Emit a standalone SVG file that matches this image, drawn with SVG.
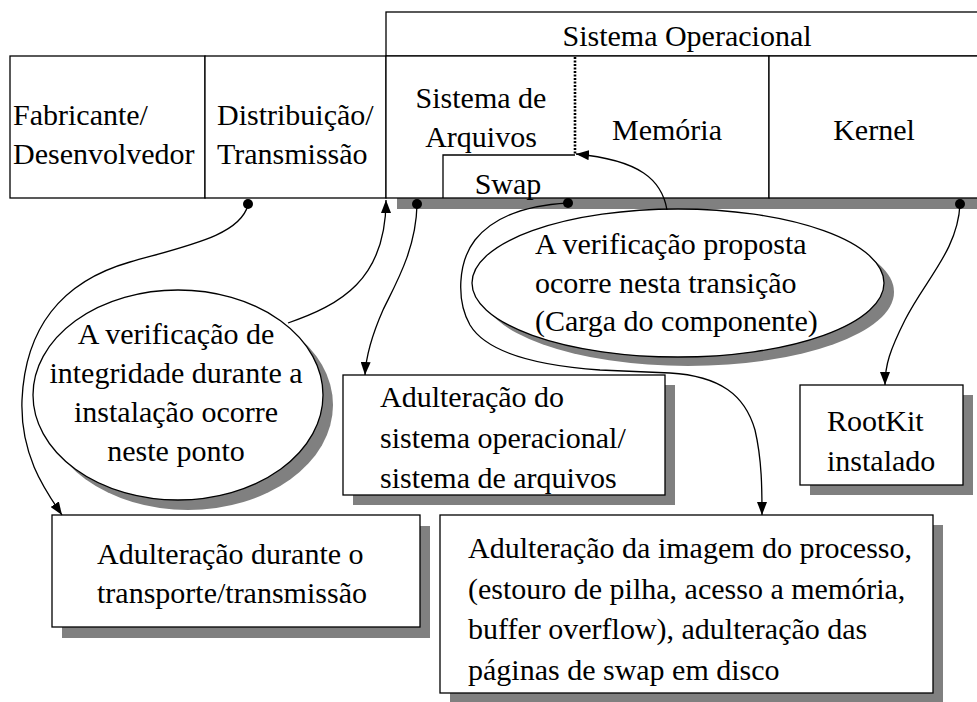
<svg xmlns="http://www.w3.org/2000/svg" width="977" height="702" viewBox="0 0 977 702">
<defs>
<style>
text{font-family:'Times New Roman','Liberation Serif','DejaVu Serif','Noto Serif',serif;font-size:30px;fill:#000}
.c{text-anchor:middle}
.box{fill:#fff;stroke:#000;stroke-width:1.3}
.sh{fill:#808080;stroke:none}
.conn{fill:none;stroke:#000;stroke-width:1.3}
.dot{fill:#000}
</style>
<marker id="arr" markerWidth="14" markerHeight="10" refX="13" refY="5" orient="auto" markerUnits="userSpaceOnUse">
<path d="M0,0 L13,5 L0,10 z" fill="#000"/>
</marker>
</defs>
<rect width="977" height="702" fill="#fff"/>
<g id="os-header">
<rect class="box" x="386" y="12" width="600" height="44"/>
<text class="c" x="687" y="46">Sistema Operacional</text>
</g>

<rect class="sh" x="397" y="198" width="590" height="11"/>

<g id="fabricante">
<rect class="box" x="10" y="56" width="195" height="142"/>
<text x="13" y="125">Fabricante/</text>
<text x="13" y="164">Desenvolvedor</text>
</g>

<g id="distribuicao">
<rect class="box" x="205" y="56" width="181" height="142"/>
<text x="217" y="125">Distribuição/</text>
<text x="217" y="164">Transmissão</text>
</g>

<g id="os-body">
<rect class="box" x="386" y="56" width="383" height="142"/>
</g>

<g id="sistema-arquivos">
<line x1="575" y1="57" x2="575" y2="155" stroke="#000" stroke-width="2.6" stroke-dasharray="2,1.5"/>
<text class="c" x="481" y="108">Sistema de</text>
<text class="c" x="481" y="147">Arquivos</text>
</g>

<g id="memoria">
<text class="c" x="667" y="140">Memória</text>
</g>

<g id="swap">
<polyline class="conn" points="575,155 443,155 443,198"/>
<text class="c" x="508" y="194">Swap</text>
</g>

<g id="kernel">
<rect class="box" x="769" y="56" width="215" height="142"/>
<text class="c" x="874" y="140">Kernel</text>
</g>

<g id="verificacao-instalacao">
<ellipse class="sh" cx="188" cy="405" rx="145" ry="105"/>
<ellipse class="box" cx="178" cy="395" rx="145" ry="105"/>
<text class="c" x="176" y="344">A verificação de</text>
<text class="c" x="176" y="383">integridade durante a</text>
<text class="c" x="176" y="422">instalação ocorre</text>
<text class="c" x="176" y="461">neste ponto</text>
</g>

<g id="verificacao-proposta">
<ellipse class="sh" cx="688" cy="292" rx="206" ry="74"/>
<ellipse class="box" cx="678" cy="283" rx="206" ry="74"/>
<text x="535" y="254">A verificação proposta</text>
<text x="535" y="293">ocorre nesta transição</text>
<text x="535" y="331">(Carga do componente)</text>
</g>

<g id="adulteracao-so">
<rect class="sh" x="353" y="385" width="322" height="120"/>
<rect class="box" x="343" y="375" width="322" height="120"/>
<text x="380" y="407">Adulteração do</text>
<text x="380" y="448">sistema operacional/</text>
<text x="380" y="488">sistema de arquivos</text>
</g>

<g id="rootkit">
<rect class="sh" x="810" y="395" width="163" height="100"/>
<rect class="box" x="800" y="385" width="163" height="100"/>
<text x="827" y="431">RootKit</text>
<text x="827" y="471">instalado</text>
</g>

<g id="adulteracao-transporte">
<rect class="sh" x="62" y="526" width="368" height="112"/>
<rect class="box" x="52" y="515" width="368" height="112"/>
<text x="97" y="564">Adulteração durante o</text>
<text x="97" y="603">transporte/transmissão</text>
</g>

<g id="adulteracao-processo">
<rect class="sh" x="450" y="525" width="493" height="178"/>
<rect class="box" x="440" y="515" width="493" height="178"/>
<text x="468" y="558">Adulteração da imagem do processo,</text>
<text x="468" y="599">(estouro de pilha, acesso a memória,</text>
<text x="468" y="639">buffer overflow), adulteração das</text>
<text x="468" y="680">páginas de swap em disco</text>
</g>

<g id="connectors">
<path class="conn" marker-end="url(#arr)" d="M248,205 C240,235 190,245 130,262 C60,282 25,330 22,400 C20,455 45,490 62,515"/>
<circle class="dot" cx="248" cy="204" r="5"/>
<path class="conn" marker-end="url(#arr)" d="M288,323 C340,305 386,280 386,200"/>
<path class="conn" marker-end="url(#arr)" d="M417,205 C416,250 395,285 383,310 C372,335 366,355 365,375"/>
<circle class="dot" cx="417" cy="204" r="5"/>
<path class="conn" marker-end="url(#arr)" d="M568,203 C530,205 495,215 475,240 C458,262 456,300 470,325 C485,350 530,365 600,370 L670,373 C720,376 745,395 755,430 C762,460 762,490 762,515"/>
<circle class="dot" cx="568" cy="203" r="5"/>
<path class="conn" marker-end="url(#arr)" d="M667,210 C662,180 640,160 576,154"/>
<path class="conn" marker-end="url(#arr)" d="M960,204 C958,250 925,280 905,320 C890,350 885,365 885,385"/>
<circle class="dot" cx="960" cy="204" r="5"/>
</g>
</svg>
